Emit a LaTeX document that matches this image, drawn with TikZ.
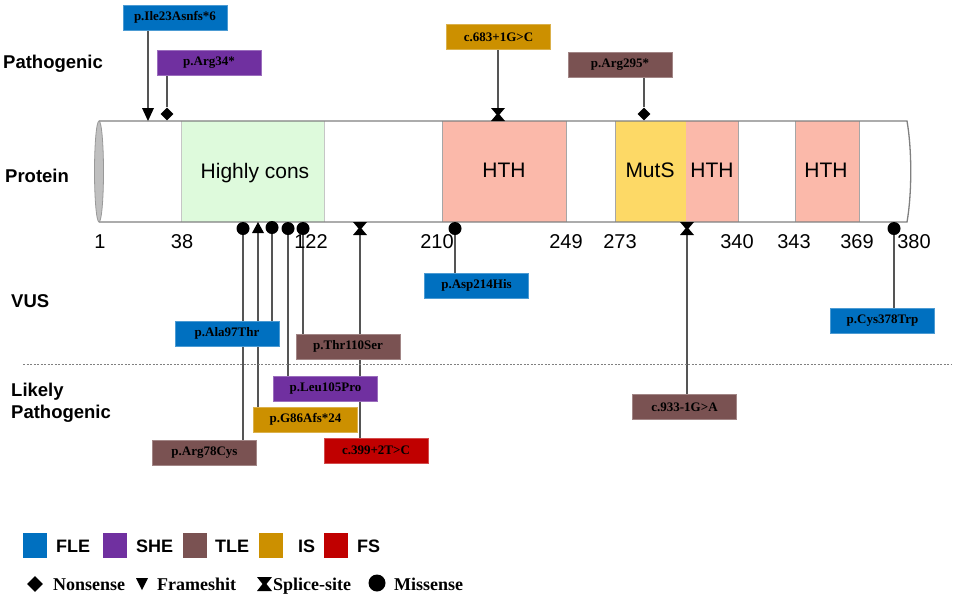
\documentclass[tikz,border=0pt]{standalone}
\usepackage{fontspec}
\setmainfont{Liberation Serif}
\setsansfont{Liberation Sans}
\usetikzlibrary{shapes.geometric,backgrounds}
\definecolor{fle}{HTML}{0070C0}
\definecolor{she}{HTML}{7030A0}
\definecolor{tle}{HTML}{7A5252}
\definecolor{isc}{HTML}{CC9000}
\definecolor{fsc}{HTML}{C00000}
\definecolor{conscol}{HTML}{DEFADC}
\definecolor{hthcol}{HTML}{FBB9AA}
\definecolor{mutscol}{HTML}{FDD966}
\definecolor{conncol}{HTML}{555555}
\definecolor{barcol}{HTML}{808080}
\begin{document}
\begin{tikzpicture}[x=1pt,y=-1pt,
  mut/.style={minimum width=104pt,minimum height=25pt,inner sep=0pt,
    font=\fontsize{13}{13}\selectfont\bfseries,text=black,line width=0.6pt},
  FLE/.style={mut,fill=fle,draw=fle!70!white},
  SHE/.style={mut,fill=she,draw=she!70!white},
  TLE/.style={mut,fill=tle,draw=tle!70!white},
  ISB/.style={mut,fill=isc,draw=isc!70!white},
  FSB/.style={mut,fill=fsc,draw=fsc!70!white},
  conn/.style={draw=conncol,line width=1.1pt},
  dot/.style={circle,fill=black,inner sep=0pt,minimum size=13pt},
  dia/.style={diamond,fill=black,inner sep=0pt,minimum size=13pt},
  side/.style={font=\sffamily\bfseries\fontsize{18.5}{22}\selectfont,anchor=base west,align=left,inner sep=0pt},
  num/.style={font=\sffamily\fontsize{20}{20}\selectfont,anchor=base,inner sep=0pt},
  dom/.style={font=\sffamily\fontsize{21}{21}\selectfont,anchor=base,inner sep=0pt},
  legsq/.style={minimum width=24pt,minimum height=25pt,inner sep=0pt},
  leg/.style={font=\sffamily\bfseries\fontsize{18}{18}\selectfont,anchor=base west,inner sep=0pt},
  sym/.style={font=\bfseries\fontsize{18}{18}\selectfont,anchor=base west,inner sep=0pt},
]
\useasboundingbox (0,0) rectangle (957,598);

% ---- side labels
\node[side] (lPath) at (3,68) {Pathogenic};
\node[side] (lProt) at (5,182) {Protein};
\node[side] (lVUS) at (11,307) {VUS};
\node[side] (lLP) at (11,418) {Likely\\Pathogenic};

% ---- protein bar
\fill[white] (99,121) rectangle (907,222);
\fill[conscol] (181,121) rectangle (324,222);
\draw[gray!45,line width=0.8pt] (181,121) -- (181,222) (324,121) -- (324,222);
\fill[hthcol] (442,121) rectangle (566,222);
\fill[mutscol] (615,121) rectangle (686,222);
\fill[hthcol] (686,121) rectangle (738,222);
\fill[hthcol] (795,121) rectangle (859,222);
\draw[gray!70,line width=0.8pt] (442,121) -- (442,222) (566,121) -- (566,222)
  (615,121) -- (615,222) (738,121) -- (738,222) (795,121) -- (795,222) (859,121) -- (859,222);
\draw[barcol,line width=1.3pt] (99,121) -- (907,121) .. controls (912,150) and (912,193) .. (907,222) -- (99,222);
\draw[fill=gray!50,draw=gray!80,line width=0.8pt] (99,171.5) ellipse [x radius=4.5pt,y radius=50.5pt];

\node[dom] (dCons) at (255,178) {Highly cons};
\node[dom] (dH1) at (504,177) {HTH};
\node[dom] (dMut) at (650,177) {MutS};
\node[dom] (dH2) at (712,177) {HTH};
\node[dom] (dH3) at (826,177) {HTH};

% ---- position numbers
\node[num] (n1) at (100,248) {1};
\node[num] (n38) at (182,248) {38};
\node[num] (n122) at (311,248) {122};
\node[num] (n210) at (437,248) {210};
\node[num] (n249) at (566,248) {249};
\node[num] (n273) at (620,248) {273};
\node[num] (n340) at (737,248) {340};
\node[num] (n343) at (794,248) {343};
\node[num] (n369) at (857,248) {369};
\node[num] (n380) at (914,248) {380};

% ---- separator
\draw[gray,line width=1pt,dash pattern=on 2pt off 1.5pt] (23,364) -- (952,364);

% ---- mutation boxes
\node[FLE] (bI23) at (175,17.5) {p.Ile23Asnfs*6};
\node[SHE] (bR34) at (209,63) {p.Arg34*};
\node[ISB] (b683) at (498.5,37) {c.683+1G>C};
\node[TLE] (bR295) at (620,64.5) {p.Arg295*};

\node[TLE] (bR78) at (204.5,452.5) {p.Arg78Cys};
\node[ISB] (bG86) at (305.5,419.5) {p.G86Afs*24};
\node[FLE] (bA97) at (227,333.5) {p.Ala97Thr};
\node[SHE] (bL105) at (325.5,388.5) {p.Leu105Pro};
\node[TLE] (bT110) at (348,346.5) {p.Thr110Ser};
\node[FSB] (b399) at (376,450.5) {c.399+2T>C};
\node[FLE] (bD214) at (476.5,285.5) {p.Asp214His};
\node[TLE] (b933) at (684.5,407) {c.933-1G>A};
\node[FLE] (bC378) at (882.5,320.5) {p.Cys378Trp};

% ---- markers
\fill[black] (142,108) -- (154,108) -- (148,121) -- cycle;
\coordinate (mI23) at (148,108);
\node[dia] (mR34) at (167,114) {};
\fill[black] (491,108) -- (505,108) -- (499.5,114.5) -- (505,121) -- (491,121) -- (496.5,114.5) -- cycle;
\coordinate (m683) at (498,108);
\node[dia] (mR295) at (644,114) {};

\node[dot] (mR78) at (243,228.5) {};
\fill[black] (258,222) -- (264,233) -- (252,233) -- cycle;
\coordinate (mG86) at (258,233);
\node[dot] (mA97) at (272,227.5) {};
\node[dot] (mL105) at (288,228.5) {};
\node[dot] (mT110) at (303,228.5) {};
\fill[black] (353,222) -- (367,222) -- (361.5,228.5) -- (367,235) -- (353,235) -- (358.5,228.5) -- cycle;
\coordinate (m399) at (360,235);
\node[dot] (mD214) at (455,228.5) {};
\fill[black] (680,222) -- (694,222) -- (688.5,228.5) -- (694,235) -- (680,235) -- (685.5,228.5) -- cycle;
\coordinate (m933) at (687,235);
\node[dot] (mC378) at (894,228.5) {};

% ---- connectors
\begin{scope}[on background layer]
\draw[conn] (bI23.south -| mI23) -- (mI23);
\draw[conn] (bR34.south -| mR34) -- (mR34);
\draw[conn] (b683.south -| m683) -- (m683);
\draw[conn] (bR295.south -| mR295) -- (mR295);
\draw[conn] (mR78) -- (mR78 |- bR78.north);
\draw[conn] (mG86) -- (mG86 |- bG86.north);
\draw[conn] (mA97) -- (mA97 |- bA97.north);
\draw[conn] (mL105) -- (mL105 |- bL105.north);
\draw[conn] (mT110) -- (mT110 |- bT110.north);
\draw[conn] (m399) -- (m399 |- b399.north);
\draw[conn] (mD214) -- (mD214 |- bD214.north);
\draw[conn] (m933) -- (m933 |- b933.north);
\draw[conn] (mC378) -- (mC378 |- bC378.north);
\end{scope}

% ---- legend colours
\node[legsq,fill=fle] (kFLE) at (35,545.5) {};
\node[leg] (tFLE) at (56,552) {FLE};
\node[legsq,fill=she] (kSHE) at (115,545.5) {};
\node[leg] (tSHE) at (136,552) {SHE};
\node[legsq,fill=tle] (kTLE) at (195,545.5) {};
\node[leg] (tTLE) at (215,552) {TLE};
\node[legsq,fill=isc] (kIS) at (271,545.5) {};
\node[leg] (tIS) at (298,552) {IS};
\node[legsq,fill=fsc] (kFS) at (336,545.5) {};
\node[leg] (tFS) at (357,552) {FS};

% ---- legend symbols
\node[diamond,fill=black,inner sep=0pt,minimum size=16pt] (sNon) at (35,584) {};
\node[sym] (tNon) at (53,590) {Nonsense};
\fill[black] (136,578) -- (148,578) -- (142,590) -- cycle;
\coordinate (sFra) at (142,584);
\node[sym] (tFra) at (157,590) {Frameshit};
\fill[black] (257,577) -- (272,577) -- (266.5,584) -- (272,591) -- (257,591) -- (262.5,584) -- cycle;
\coordinate (sSpl) at (265,584);
\node[sym] (tSpl) at (273,590) {Splice-site};
\node[circle,fill=black,inner sep=0pt,minimum size=17pt] (sMis) at (377,583) {};
\node[sym] (tMis) at (394,590) {Missense};
\end{tikzpicture}
\end{document}
